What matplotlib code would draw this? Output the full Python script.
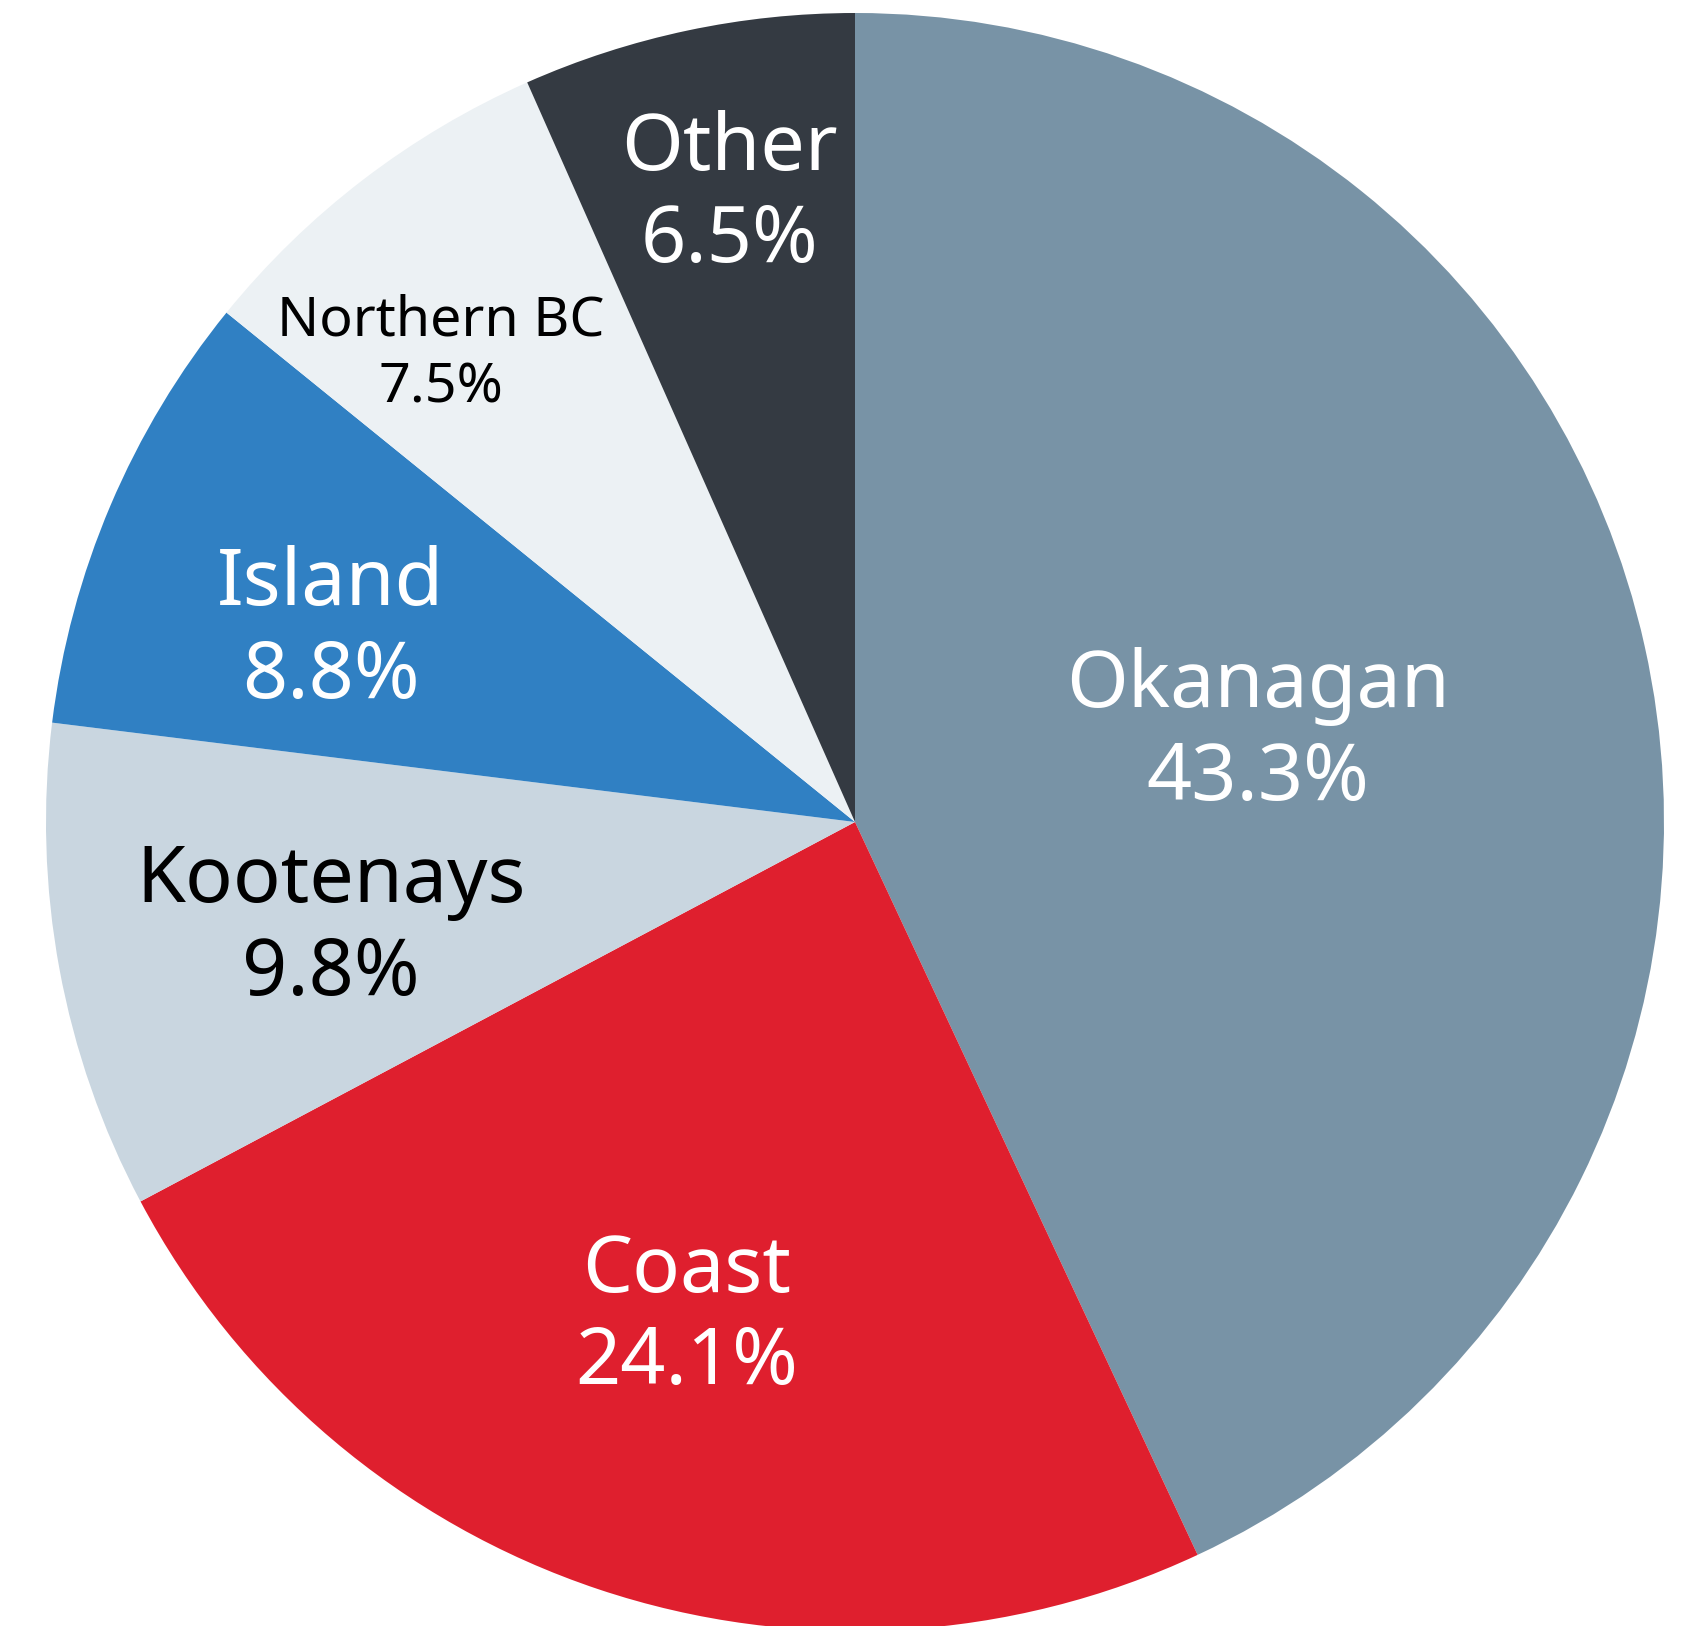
import matplotlib
matplotlib.use("Agg")
import matplotlib.pyplot as plt

plt.rcParams['font.family'] = ['Noto Sans', 'DejaVu Sans']

regions = ['Okanagan', 'Coast', 'Kootenays', 'Island', 'Northern BC', 'Other']
# percentages as printed on the chart
pct_labels = ['43.3%', '24.1%', '9.8%', '8.8%', '7.5%', '6.5%']
wedge_sizes = [43.04, 24.19, 9.73, 8.88, 7.52, 6.64]
colors = ['#7893a6', '#df1f2e', '#c9d6e0', '#3080c3', '#ecf1f4', '#343a42']
text_colors = ['white', 'white', 'black', 'white', 'black', 'white']
font_sizes = [57, 57, 57, 57, 40, 57]
line_gaps = [1.22, 1.22, 1.22, 1.22, 1.28, 1.22]
# label centres, in units of pie radius
label_pos = [(0.498, 0.110), (-0.208, -0.612), (-0.648, -0.131),
             (-0.648, 0.236), (-0.512, 0.578), (-0.155, 0.774)]

W, H = 1691, 1626
cx, cy, r = 855, 822, 809

fig = plt.figure(figsize=(W / 100, H / 100), dpi=100)
ax = fig.add_axes([0, 0, 1, 1])
ax.pie(wedge_sizes, colors=colors, startangle=90, counterclock=False,
       radius=1, wedgeprops={'linewidth': 0})
ax.set_xlim(-cx / r, (W - cx) / r)
ax.set_ylim(-(H - cy) / r, cy / r)
ax.set_aspect('auto')
ax.axis('off')

for i in range(len(regions)):
    x, y = label_pos[i]
    ax.text(x, y, regions[i] + '\n' + pct_labels[i], ha='center', va='center',
            color=text_colors[i], fontsize=font_sizes[i], linespacing=line_gaps[i])

fig.savefig('out.png', dpi=100)
